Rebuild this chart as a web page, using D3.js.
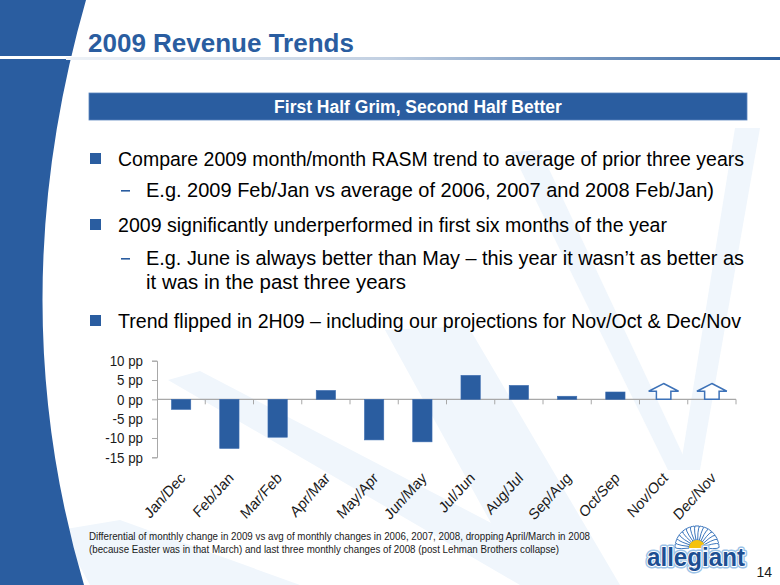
<!DOCTYPE html>
<html>
<head>
<meta charset="utf-8">
<script src="https://cdn.jsdelivr.net/npm/d3@7/dist/d3.min.js"></script>
<style>
  html, body { margin: 0; padding: 0; background: #ffffff; }
  svg { display: block; }
  text { font-family: "Liberation Sans", Arial, sans-serif; }
</style>
</head>
<body>
<svg id="chart" width="780" height="585"></svg>
<script>
// ---------- data ----------
const categories = ["Jan/Dec", "Feb/Jan", "Mar/Feb", "Apr/Mar", "May/Apr", "Jun/May",
                    "Jul/Jun", "Aug/Jul", "Sep/Aug", "Oct/Sep", "Nov/Oct", "Dec/Nov"];
const differentialPP = [-2.6, -12.7, -9.8, 2.3, -10.5, -11.0, 6.2, 3.6, 0.8, 1.9, null, null];
const projection = [null, null, null, null, null, null, null, null, null, null, "up", "up"];
const yTicks = [10, 5, 0, -5, -10, -15];
const yDomain = [-15, 10];

const titleText = "2009 Revenue Trends";
const headerText = "First Half Grim, Second Half Better";
const bulletLines = [
  { level: 1, text: "Compare 2009 month/month RASM trend to average of prior three years" },
  { level: 2, text: "E.g. 2009 Feb/Jan vs average of 2006, 2007 and 2008 Feb/Jan)" },
  { level: 1, text: "2009 significantly underperformed in first six months of the year" },
  { level: 2, text: "E.g. June is always better than May \u2013 this year it wasn\u2019t as better as" },
  { level: 3, text: "it was in the past three years" },
  { level: 1, text: "Trend flipped in 2H09 \u2013 including our projections for Nov/Oct & Dec/Nov" }
];
const footnoteLines = [
  "Differential of monthly change in 2009 vs avg of monthly changes in 2006, 2007, 2008, dropping April/March in 2008",
  "(because Easter was in that March) and last three monthly changes of 2008 (post Lehman Brothers collapse)"
];
const pageNumber = "14";

// ---------- layout / style ----------
const BLUE = "#2a5da0";
const svg = d3.select("#chart");
const defs = svg.append("defs");

// faint background petals
const petals = [
  [[168,380],[200,371],[610,585],[520,585]],
  [[385,330],[468,326],[620,585],[525,585]],
  [[512,152],[540,150],[690,470],[668,470]],
  [[735,128],[760,128],[700,470],[680,470]],
  [[60,530],[120,520],[300,585],[90,585]]
];
svg.append("g").selectAll("path").data(petals).join("path")
  .attr("d", d => "M" + d.map(p => p.join(",")).join("L") + "Z")
  .attr("fill", "#f0f6fc");

// left blue shape
svg.append("path")
  .attr("d", "M0,0 L86,0 Q0,300 84,585 L0,585 Z")
  .attr("fill", BLUE);

// title underline with gradient
const grad = defs.append("linearGradient").attr("id", "lineGrad")
  .attr("x1", "0%").attr("x2", "100%");
grad.append("stop").attr("offset", "0%").attr("stop-color", "#eef2f7");
grad.append("stop").attr("offset", "45%").attr("stop-color", "#c2d0e2");
grad.append("stop").attr("offset", "100%").attr("stop-color", "#2d609f");
svg.append("rect").attr("x", 0).attr("y", 56).attr("width", 780).attr("height", 3).attr("fill", "#ffffff");
svg.append("rect").attr("x", 66).attr("y", 57).attr("width", 714).attr("height", 3).attr("fill", "url(#lineGrad)");

// title
svg.append("text").attr("x", 88).attr("y", 52)
  .attr("font-size", 26).attr("font-weight", "bold").attr("fill", BLUE)
  .text(titleText);

// header bar
svg.append("rect").attr("x", 89).attr("y", 93).attr("width", 658).attr("height", 27)
  .attr("fill", BLUE).attr("stroke", "#5a85bd").attr("stroke-width", 0.8);
svg.append("text").attr("x", 418).attr("y", 112.5).attr("text-anchor", "middle")
  .attr("font-size", 17.5).attr("font-weight", "bold").attr("fill", "#ffffff")
  .text(headerText);

// bullets
const lineY = [166, 197, 232, 265, 289, 328];
const lineW = [626, 568, 549, 598, 260, 623];
const bl = svg.append("g");
bulletLines.forEach((l, i) => {
  const tx = l.level === 1 ? 118 : 146;
  if (l.level === 1) {
    bl.append("rect").attr("x", 90).attr("y", lineY[i] - 13).attr("width", 11).attr("height", 11).attr("fill", BLUE);
  } else if (l.level === 2) {
    bl.append("rect").attr("x", 121).attr("y", lineY[i] - 7).attr("width", 9).attr("height", 1.6).attr("fill", BLUE);
  }
  bl.append("text").attr("x", tx).attr("y", lineY[i])
    .attr("font-size", 20.5).attr("fill", "#000")
    .attr("textLength", lineW[i]).attr("lengthAdjust", "spacingAndGlyphs")
    .text(l.text);
});

// ---------- chart ----------
const x = d3.scaleBand().domain(categories).range([157, 736]).paddingInner(0.6).paddingOuter(0.3);
const y = d3.scaleLinear().domain(yDomain).range([457.3, 360.7]);
const AXIS_GRAY = "#a8a8a8";

const yAxis = d3.axisLeft(y).tickValues(yTicks).tickSize(5).tickPadding(9)
  .tickFormat(d => d + " pp");
const gy = svg.append("g").attr("transform", "translate(157,0)").call(yAxis);
gy.select(".domain").attr("stroke", AXIS_GRAY);
gy.selectAll(".tick line").attr("stroke", AXIS_GRAY);
gy.selectAll(".tick text").attr("font-size", 15.5).attr("fill", "#1a1a1a")
  .attr("font-family", "'Liberation Sans', Arial, sans-serif")
  .each(function () {
    const w = this.getComputedTextLength();
    d3.select(this).attr("textLength", w * 0.86).attr("lengthAdjust", "spacingAndGlyphs");
  });

// x axis at zero
const y0 = y(0);
const step = x.step();
const half = x.paddingInner() * step / 2;
const bounds = categories.map(c => x(c) - half).concat([x(categories[categories.length - 1]) + x.bandwidth() + half]);
const gx = svg.append("g");
gx.append("line").attr("x1", 157).attr("x2", bounds[bounds.length - 1]).attr("y1", y0).attr("y2", y0)
  .attr("stroke", AXIS_GRAY).attr("stroke-width", 1.2);
gx.selectAll("line.tk").data(bounds.slice(1)).join("line").attr("class", "tk")
  .attr("x1", d => d).attr("x2", d => d).attr("y1", y0).attr("y2", y0 + 5)
  .attr("stroke", AXIS_GRAY);

// bars
const barData = categories.map((c, i) => ({ c, v: differentialPP[i] })).filter(d => d.v !== null);
svg.append("g").selectAll("rect").data(barData).join("rect")
  .attr("x", d => x(d.c))
  .attr("width", x.bandwidth())
  .attr("y", d => Math.min(y(d.v), y0))
  .attr("height", d => Math.abs(y(d.v) - y0))
  .attr("fill", BLUE).attr("stroke", "#3b6cb0").attr("stroke-width", 0.6);

// projection arrows
const ARROW_TIP = 4.1, ARROW_SHOULDER = 2.1;
const arrowData = categories.map((c, i) => ({ c, p: projection[i] })).filter(d => d.p === "up");
svg.append("g").selectAll("path").data(arrowData).join("path")
  .attr("d", d => {
    const cx = x(d.c) + x.bandwidth() / 2;
    const hw = step * 0.31, sw = step * 0.15;
    const tip = y(ARROW_TIP), sh = y(ARROW_SHOULDER), bot = y0;
    return `M${cx},${tip} L${cx + hw},${sh} L${cx + sw},${sh} L${cx + sw},${bot} L${cx - sw},${bot} L${cx - sw},${sh} L${cx - hw},${sh} Z`;
  })
  .attr("fill", "#ffffff").attr("stroke", "#3d72b8").attr("stroke-width", 1.5)
  .attr("stroke-linejoin", "miter");

// category labels (slightly condensed glyphs, like the source slide)
svg.append("g").selectAll("text").data(categories).join("text")
  .attr("transform", d => `translate(${x(d) + x.bandwidth() / 2 + 5},479) scale(0.9,1) rotate(-45)`)
  .attr("text-anchor", "end")
  .attr("font-size", 15.5).attr("fill", "#1a1a1a")
  .text(d => d);

// footnote
svg.append("g").selectAll("text").data(footnoteLines).join("text")
  .attr("x", 89).attr("y", (d, i) => 540 + i * 12.5)
  .attr("font-size", 11).attr("fill", "#1a1a1a")
  .attr("textLength", (d, i) => i === 0 ? 501 : 470).attr("lengthAdjust", "spacingAndGlyphs")
  .text(d => d);

// logo
const logo = svg.append("g");
const lc = [697, 548];
const nPet = 15;
for (let k = 0; k < nPet; k++) {
  const a = Math.PI + (k + 0.5) * Math.PI / nPet;
  const r1 = 8, r2 = 22;
  const p1 = [lc[0] + r1 * Math.cos(a - 0.12), lc[1] + r1 * Math.sin(a - 0.12)];
  const p2 = [lc[0] + r2 * Math.cos(a), lc[1] + r2 * Math.sin(a)];
  const p3 = [lc[0] + r1 * Math.cos(a + 0.12), lc[1] + r1 * Math.sin(a + 0.12)];
  logo.append("path")
    .attr("d", `M${p1} Q${lc[0] + (r2 + 3) * Math.cos(a - 0.18)},${lc[1] + (r2 + 3) * Math.sin(a - 0.18)} ${p2} Q${lc[0] + (r2 + 3) * Math.cos(a + 0.18)},${lc[1] + (r2 + 3) * Math.sin(a + 0.18)} ${p3} Z`)
    .attr("fill", "#ffffff").attr("stroke", "#3e78be").attr("stroke-width", 1);
}
logo.append("path").attr("d", `M${lc[0] - 8},${lc[1]} A8,8 0 0 1 ${lc[0] + 8},${lc[1]} Z`).attr("fill", "#f4c20d");
logo.append("text").attr("x", 696).attr("y", 566).attr("text-anchor", "middle")
  .attr("font-size", 25).attr("font-weight", "bold").attr("fill", "#1d4f93")
  .attr("stroke", "#9cc3e8").attr("stroke-width", 5).attr("stroke-linejoin", "round")
  .attr("textLength", 98).attr("lengthAdjust", "spacingAndGlyphs")
  .text("allegiant");
logo.append("text").attr("x", 696).attr("y", 566).attr("text-anchor", "middle")
  .attr("font-size", 25).attr("font-weight", "bold").attr("fill", "#1d4f93")
  .attr("stroke", "#ffffff").attr("stroke-width", 2).attr("stroke-linejoin", "round")
  .attr("paint-order", "stroke")
  .attr("textLength", 98).attr("lengthAdjust", "spacingAndGlyphs")
  .text("allegiant");

svg.append("text").attr("x", 772).attr("y", 577).attr("text-anchor", "end")
  .attr("font-size", 14).attr("fill", "#1a1a1a").text(pageNumber);
</script>
</body>
</html>
